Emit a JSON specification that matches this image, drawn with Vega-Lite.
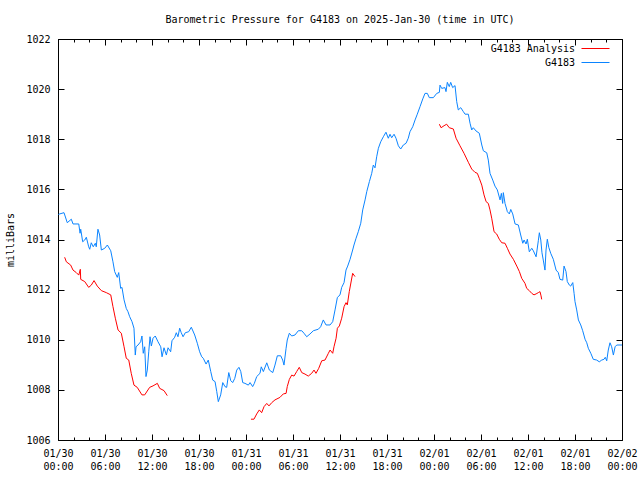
{
"$schema": "https://vega.github.io/schema/vega-lite/v6.json",
"width": 564, "height": 401,
"autosize": {"type": "none"},
"padding": {"left": 58, "top": 39, "right": 18, "bottom": 40},
"background": "white",
"title": {"text": "Barometric Pressure for G4183 on 2025-Jan-30 (time in UTC)", "font": "DejaVu Sans Mono", "fontSize": 10, "fontWeight": "normal", "color": "black", "anchor": "middle", "offset": 9},
"config": {
  "view": {"stroke": "black", "strokeWidth": 1},
  "axis": {"labelFont": "DejaVu Sans Mono", "labelFontSize": 10, "labelColor": "black", "titleFont": "DejaVu Sans Mono", "titleFontSize": 10, "titleFontWeight": "normal", "titleColor": "black", "domain": false, "grid": false, "tickColor": "black", "tickWidth": 1}
},
"datasets": {
"blue": [
{"time":"2025-01-30T00:03:00Z","mb":1015.0},{"time":"2025-01-30T00:13:00Z","mb":1015.02},{"time":"2025-01-30T00:46:00Z","mb":1015.07},{"time":"2025-01-30T01:11:00Z","mb":1014.67},{"time":"2025-01-30T01:42:00Z","mb":1014.81},{"time":"2025-01-30T01:55:00Z","mb":1014.62},{"time":"2025-01-30T02:39:00Z","mb":1014.62},{"time":"2025-01-30T02:49:00Z","mb":1014.25},{"time":"2025-01-30T02:54:00Z","mb":1014.41},{"time":"2025-01-30T03:09:00Z","mb":1013.91},{"time":"2025-01-30T03:25:00Z","mb":1013.98},{"time":"2025-01-30T03:37:00Z","mb":1014.09},{"time":"2025-01-30T03:55:00Z","mb":1013.71},{"time":"2025-01-30T04:03:00Z","mb":1013.61},{"time":"2025-01-30T04:15:00Z","mb":1013.87},{"time":"2025-01-30T04:30:00Z","mb":1013.71},{"time":"2025-01-30T04:46:00Z","mb":1013.85},{"time":"2025-01-30T04:53:00Z","mb":1013.71},{"time":"2025-01-30T05:06:00Z","mb":1014.41},{"time":"2025-01-30T05:19:00Z","mb":1014.18},{"time":"2025-01-30T05:32:00Z","mb":1013.58},{"time":"2025-01-30T05:58:00Z","mb":1013.65},{"time":"2025-01-30T06:18:00Z","mb":1013.78},{"time":"2025-01-30T06:44:00Z","mb":1013.55},{"time":"2025-01-30T07:01:00Z","mb":1013.11},{"time":"2025-01-30T07:14:00Z","mb":1012.72},{"time":"2025-01-30T07:34:00Z","mb":1012.49},{"time":"2025-01-30T07:45:00Z","mb":1012.68},{"time":"2025-01-30T08:00:00Z","mb":1012.05},{"time":"2025-01-30T08:10:00Z","mb":1012.09},{"time":"2025-01-30T08:26:00Z","mb":1011.59},{"time":"2025-01-30T08:43:00Z","mb":1011.25},{"time":"2025-01-30T08:56:00Z","mb":1011.12},{"time":"2025-01-30T09:09:00Z","mb":1010.92},{"time":"2025-01-30T09:27:00Z","mb":1010.72},{"time":"2025-01-30T09:42:00Z","mb":1010.46},{"time":"2025-01-30T09:52:00Z","mb":1009.39},{"time":"2025-01-30T09:58:00Z","mb":1009.72},{"time":"2025-01-30T10:13:00Z","mb":1009.79},{"time":"2025-01-30T10:33:00Z","mb":1009.92},{"time":"2025-01-30T10:43:00Z","mb":1010.15},{"time":"2025-01-30T10:53:00Z","mb":1009.46},{"time":"2025-01-30T11:04:00Z","mb":1009.72},{"time":"2025-01-30T11:14:00Z","mb":1008.53},{"time":"2025-01-30T11:24:00Z","mb":1008.79},{"time":"2025-01-30T11:35:00Z","mb":1009.52},{"time":"2025-01-30T11:45:00Z","mb":1010.12},{"time":"2025-01-30T11:55:00Z","mb":1009.75},{"time":"2025-01-30T12:08:00Z","mb":1010.06},{"time":"2025-01-30T12:25:00Z","mb":1010.15},{"time":"2025-01-30T12:46:00Z","mb":1009.92},{"time":"2025-01-30T13:07:00Z","mb":1009.72},{"time":"2025-01-30T13:17:00Z","mb":1009.32},{"time":"2025-01-30T13:32:00Z","mb":1009.68},{"time":"2025-01-30T13:50:00Z","mb":1009.39},{"time":"2025-01-30T14:03:00Z","mb":1009.68},{"time":"2025-01-30T14:23:00Z","mb":1009.52},{"time":"2025-01-30T14:33:00Z","mb":1009.96},{"time":"2025-01-30T14:54:00Z","mb":1010.10},{"time":"2025-01-30T15:06:00Z","mb":1010.28},{"time":"2025-01-30T15:19:00Z","mb":1010.12},{"time":"2025-01-30T15:32:00Z","mb":1010.46},{"time":"2025-01-30T15:44:00Z","mb":1010.28},{"time":"2025-01-30T15:58:00Z","mb":1010.12},{"time":"2025-01-30T16:15:00Z","mb":1010.28},{"time":"2025-01-30T16:41:00Z","mb":1010.32},{"time":"2025-01-30T17:01:00Z","mb":1010.50},{"time":"2025-01-30T17:27:00Z","mb":1010.19},{"time":"2025-01-30T17:47:00Z","mb":1009.86},{"time":"2025-01-30T18:05:00Z","mb":1009.52},{"time":"2025-01-30T18:21:00Z","mb":1009.32},{"time":"2025-01-30T18:33:00Z","mb":1009.26},{"time":"2025-01-30T18:54:00Z","mb":1009.03},{"time":"2025-01-30T19:11:00Z","mb":1009.19},{"time":"2025-01-30T19:30:00Z","mb":1008.73},{"time":"2025-01-30T19:45:00Z","mb":1008.39},{"time":"2025-01-30T20:03:00Z","mb":1008.33},{"time":"2025-01-30T20:16:00Z","mb":1007.93},{"time":"2025-01-30T20:28:00Z","mb":1007.53},{"time":"2025-01-30T20:46:00Z","mb":1007.80},{"time":"2025-01-30T21:02:00Z","mb":1008.29},{"time":"2025-01-30T21:19:00Z","mb":1008.13},{"time":"2025-01-30T21:32:00Z","mb":1008.10},{"time":"2025-01-30T21:48:00Z","mb":1008.69},{"time":"2025-01-30T22:03:00Z","mb":1008.37},{"time":"2025-01-30T22:18:00Z","mb":1008.29},{"time":"2025-01-30T22:34:00Z","mb":1008.46},{"time":"2025-01-30T22:49:00Z","mb":1008.79},{"time":"2025-01-30T23:06:00Z","mb":1008.90},{"time":"2025-01-30T23:20:00Z","mb":1008.73},{"time":"2025-01-30T23:35:00Z","mb":1008.29},{"time":"2025-01-30T23:52:00Z","mb":1008.26},
{"time":"2025-01-31T00:18:00Z","mb":1008.19},{"time":"2025-01-31T00:31:00Z","mb":1008.29},{"time":"2025-01-31T00:51:00Z","mb":1008.13},{"time":"2025-01-31T01:04:00Z","mb":1008.26},{"time":"2025-01-31T01:22:00Z","mb":1008.53},{"time":"2025-01-31T01:47:00Z","mb":1008.66},{"time":"2025-01-31T01:57:00Z","mb":1008.92},{"time":"2025-01-31T02:13:00Z","mb":1008.73},{"time":"2025-01-31T02:39:00Z","mb":1009.08},{"time":"2025-01-31T02:59:00Z","mb":1008.79},{"time":"2025-01-31T03:25:00Z","mb":1008.69},{"time":"2025-01-31T03:42:00Z","mb":1008.99},{"time":"2025-01-31T04:00:00Z","mb":1009.36},{"time":"2025-01-31T04:26:00Z","mb":1009.36},{"time":"2025-01-31T04:41:00Z","mb":1009.19},{"time":"2025-01-31T04:51:00Z","mb":1008.99},{"time":"2025-01-31T05:07:00Z","mb":1009.66},{"time":"2025-01-31T05:16:00Z","mb":1009.99},{"time":"2025-01-31T05:32:00Z","mb":1010.26},{"time":"2025-01-31T05:50:00Z","mb":1010.15},{"time":"2025-01-31T06:15:00Z","mb":1010.19},{"time":"2025-01-31T06:41:00Z","mb":1010.36},{"time":"2025-01-31T07:07:00Z","mb":1010.36},{"time":"2025-01-31T07:24:00Z","mb":1010.26},{"time":"2025-01-31T07:45:00Z","mb":1010.12},{"time":"2025-01-31T08:10:00Z","mb":1010.23},{"time":"2025-01-31T08:36:00Z","mb":1010.36},{"time":"2025-01-31T09:14:00Z","mb":1010.42},{"time":"2025-01-31T09:32:00Z","mb":1010.52},{"time":"2025-01-31T09:52:00Z","mb":1010.79},{"time":"2025-01-31T10:13:00Z","mb":1010.59},{"time":"2025-01-31T10:44:00Z","mb":1010.59},{"time":"2025-01-31T11:04:00Z","mb":1010.72},{"time":"2025-01-31T11:22:00Z","mb":1011.19},{"time":"2025-01-31T11:40:00Z","mb":1011.69},{"time":"2025-01-31T12:00:00Z","mb":1011.79},{"time":"2025-01-31T12:13:00Z","mb":1012.09},{"time":"2025-01-31T12:31:00Z","mb":1012.28},{"time":"2025-01-31T12:46:00Z","mb":1012.78},{"time":"2025-01-31T12:59:00Z","mb":1012.94},{"time":"2025-01-31T13:17:00Z","mb":1013.21},{"time":"2025-01-31T13:37:00Z","mb":1013.58},{"time":"2025-01-31T13:47:00Z","mb":1013.78},{"time":"2025-01-31T14:03:00Z","mb":1014.05},{"time":"2025-01-31T14:20:00Z","mb":1014.31},{"time":"2025-01-31T14:39:00Z","mb":1014.65},{"time":"2025-01-31T14:54:00Z","mb":1015.18},{"time":"2025-01-31T15:12:00Z","mb":1015.58},{"time":"2025-01-31T15:25:00Z","mb":1015.91},{"time":"2025-01-31T15:45:00Z","mb":1016.31},{"time":"2025-01-31T16:03:00Z","mb":1016.64},{"time":"2025-01-31T16:15:00Z","mb":1016.97},{"time":"2025-01-31T16:28:00Z","mb":1016.86},{"time":"2025-01-31T16:41:00Z","mb":1017.30},{"time":"2025-01-31T16:54:00Z","mb":1017.64},{"time":"2025-01-31T17:12:00Z","mb":1017.90},{"time":"2025-01-31T17:32:00Z","mb":1018.10},{"time":"2025-01-31T17:52:00Z","mb":1018.28},{"time":"2025-01-31T18:10:00Z","mb":1018.04},{"time":"2025-01-31T18:23:00Z","mb":1018.20},{"time":"2025-01-31T18:36:00Z","mb":1018.06},{"time":"2025-01-31T18:54:00Z","mb":1018.20},{"time":"2025-01-31T19:09:00Z","mb":1018.04},{"time":"2025-01-31T19:27:00Z","mb":1017.74},{"time":"2025-01-31T19:45:00Z","mb":1017.61},{"time":"2025-01-31T20:05:00Z","mb":1017.77},{"time":"2025-01-31T20:26:00Z","mb":1017.84},{"time":"2025-01-31T20:43:00Z","mb":1018.04},{"time":"2025-01-31T20:56:00Z","mb":1018.30},{"time":"2025-01-31T21:17:00Z","mb":1018.50},{"time":"2025-01-31T21:35:00Z","mb":1018.77},{"time":"2025-01-31T21:52:00Z","mb":1019.00},{"time":"2025-01-31T22:13:00Z","mb":1019.30},{"time":"2025-01-31T22:34:00Z","mb":1019.61},{"time":"2025-01-31T22:51:00Z","mb":1019.83},{"time":"2025-01-31T23:09:00Z","mb":1019.83},{"time":"2025-01-31T23:24:00Z","mb":1019.66},{"time":"2025-01-31T23:55:00Z","mb":1019.66},
{"time":"2025-02-01T00:21:00Z","mb":1019.83},{"time":"2025-02-01T00:41:00Z","mb":1019.87},{"time":"2025-02-01T00:46:00Z","mb":1020.16},{"time":"2025-02-01T00:59:00Z","mb":1020.03},{"time":"2025-02-01T01:24:00Z","mb":1020.06},{"time":"2025-02-01T01:32:00Z","mb":1019.90},{"time":"2025-02-01T01:42:00Z","mb":1020.27},{"time":"2025-02-01T01:57:00Z","mb":1020.10},{"time":"2025-02-01T02:08:00Z","mb":1020.27},{"time":"2025-02-01T02:23:00Z","mb":1020.06},{"time":"2025-02-01T02:41:00Z","mb":1020.14},{"time":"2025-02-01T02:54:00Z","mb":1019.50},{"time":"2025-02-01T03:06:00Z","mb":1019.17},{"time":"2025-02-01T03:25:00Z","mb":1019.26},{"time":"2025-02-01T03:45:00Z","mb":1019.10},{"time":"2025-02-01T03:58:00Z","mb":1019.00},{"time":"2025-02-01T04:23:00Z","mb":1019.00},{"time":"2025-02-01T04:36:00Z","mb":1018.64},{"time":"2025-02-01T04:49:00Z","mb":1018.37},{"time":"2025-02-01T05:01:00Z","mb":1018.46},{"time":"2025-02-01T05:22:00Z","mb":1018.33},{"time":"2025-02-01T05:47:00Z","mb":1018.24},{"time":"2025-02-01T06:06:00Z","mb":1017.77},{"time":"2025-02-01T06:18:00Z","mb":1017.54},{"time":"2025-02-01T06:44:00Z","mb":1017.46},{"time":"2025-02-01T06:56:00Z","mb":1017.17},{"time":"2025-02-01T07:09:00Z","mb":1016.64},{"time":"2025-02-01T07:30:00Z","mb":1016.37},{"time":"2025-02-01T07:47:00Z","mb":1016.13},{"time":"2025-02-01T08:05:00Z","mb":1015.98},{"time":"2025-02-01T08:26:00Z","mb":1015.58},{"time":"2025-02-01T08:36:00Z","mb":1015.84},{"time":"2025-02-01T08:46:00Z","mb":1015.44},{"time":"2025-02-01T08:51:00Z","mb":1015.87},{"time":"2025-02-01T09:04:00Z","mb":1015.44},{"time":"2025-02-01T09:22:00Z","mb":1015.11},{"time":"2025-02-01T09:37:00Z","mb":1015.02},{"time":"2025-02-01T09:48:00Z","mb":1015.20},{"time":"2025-02-01T10:03:00Z","mb":1015.02},{"time":"2025-02-01T10:21:00Z","mb":1014.62},{"time":"2025-02-01T10:46:00Z","mb":1014.58},{"time":"2025-02-01T11:04:00Z","mb":1014.18},{"time":"2025-02-01T11:20:00Z","mb":1013.85},{"time":"2025-02-01T11:30:00Z","mb":1013.98},{"time":"2025-02-01T11:45:00Z","mb":1013.82},{"time":"2025-02-01T11:55:00Z","mb":1014.01},{"time":"2025-02-01T12:10:00Z","mb":1013.51},{"time":"2025-02-01T12:29:00Z","mb":1013.65},{"time":"2025-02-01T12:41:00Z","mb":1013.55},{"time":"2025-02-01T13:02:00Z","mb":1013.31},{"time":"2025-02-01T13:19:00Z","mb":1013.95},{"time":"2025-02-01T13:27:00Z","mb":1014.27},{"time":"2025-02-01T13:38:00Z","mb":1013.98},{"time":"2025-02-01T13:47:00Z","mb":1013.47},{"time":"2025-02-01T13:57:00Z","mb":1013.18},{"time":"2025-02-01T14:10:00Z","mb":1012.78},{"time":"2025-02-01T14:18:00Z","mb":1013.58},{"time":"2025-02-01T14:28:00Z","mb":1014.01},{"time":"2025-02-01T14:39:00Z","mb":1013.69},{"time":"2025-02-01T14:54:00Z","mb":1013.45},{"time":"2025-02-01T15:14:00Z","mb":1013.21},{"time":"2025-02-01T15:35:00Z","mb":1012.78},{"time":"2025-02-01T15:52:00Z","mb":1012.68},{"time":"2025-02-01T16:05:00Z","mb":1012.41},{"time":"2025-02-01T16:26:00Z","mb":1012.38},{"time":"2025-02-01T16:36:00Z","mb":1012.94},{"time":"2025-02-01T16:51:00Z","mb":1012.72},{"time":"2025-02-01T17:01:00Z","mb":1012.32},{"time":"2025-02-01T17:17:00Z","mb":1012.18},{"time":"2025-02-01T17:27:00Z","mb":1012.14},{"time":"2025-02-01T17:43:00Z","mb":1012.28},{"time":"2025-02-01T17:53:00Z","mb":1011.85},{"time":"2025-02-01T18:00:00Z","mb":1011.52},{"time":"2025-02-01T18:13:00Z","mb":1011.19},{"time":"2025-02-01T18:26:00Z","mb":1010.79},{"time":"2025-02-01T18:44:00Z","mb":1010.59},{"time":"2025-02-01T18:59:00Z","mb":1010.36},{"time":"2025-02-01T19:17:00Z","mb":1010.02},{"time":"2025-02-01T19:30:00Z","mb":1009.88},{"time":"2025-02-01T19:42:00Z","mb":1009.66},{"time":"2025-02-01T20:01:00Z","mb":1009.46},{"time":"2025-02-01T20:20:00Z","mb":1009.22},{"time":"2025-02-01T20:46:00Z","mb":1009.19},{"time":"2025-02-01T21:06:00Z","mb":1009.12},{"time":"2025-02-01T21:25:00Z","mb":1009.19},{"time":"2025-02-01T21:42:00Z","mb":1009.22},{"time":"2025-02-01T21:52:00Z","mb":1009.30},{"time":"2025-02-01T22:03:00Z","mb":1009.16},{"time":"2025-02-01T22:15:00Z","mb":1009.59},{"time":"2025-02-01T22:28:00Z","mb":1009.88},{"time":"2025-02-01T22:41:00Z","mb":1009.72},{"time":"2025-02-01T22:54:00Z","mb":1009.39},{"time":"2025-02-01T23:07:00Z","mb":1009.72},{"time":"2025-02-01T23:20:00Z","mb":1009.79},{"time":"2025-02-02T00:00:00Z","mb":1009.79}
],
"red": [
{"seg":"r1","time":"2025-01-30T00:51:00Z","mb":1013.29},{"seg":"r1","time":"2025-01-30T01:04:00Z","mb":1013.11},{"seg":"r1","time":"2025-01-30T01:37:00Z","mb":1012.98},{"seg":"r1","time":"2025-01-30T01:55:00Z","mb":1012.78},{"seg":"r1","time":"2025-01-30T02:20:00Z","mb":1012.68},{"seg":"r1","time":"2025-01-30T02:39:00Z","mb":1012.58},{"seg":"r1","time":"2025-01-30T02:51:00Z","mb":1012.81},{"seg":"r1","time":"2025-01-30T02:54:00Z","mb":1012.41},{"seg":"r1","time":"2025-01-30T03:25:00Z","mb":1012.32},{"seg":"r1","time":"2025-01-30T03:55:00Z","mb":1012.09},{"seg":"r1","time":"2025-01-30T04:15:00Z","mb":1012.18},{"seg":"r1","time":"2025-01-30T04:36:00Z","mb":1012.36},{"seg":"r1","time":"2025-01-30T05:01:00Z","mb":1012.14},{"seg":"r1","time":"2025-01-30T05:32:00Z","mb":1011.96},{"seg":"r1","time":"2025-01-30T06:10:00Z","mb":1011.88},{"seg":"r1","time":"2025-01-30T06:44:00Z","mb":1011.79},{"seg":"r1","time":"2025-01-30T07:01:00Z","mb":1011.32},{"seg":"r1","time":"2025-01-30T07:19:00Z","mb":1010.86},{"seg":"r1","time":"2025-01-30T07:40:00Z","mb":1010.39},{"seg":"r1","time":"2025-01-30T08:05:00Z","mb":1010.26},{"seg":"r1","time":"2025-01-30T08:26:00Z","mb":1009.72},{"seg":"r1","time":"2025-01-30T08:43:00Z","mb":1009.26},{"seg":"r1","time":"2025-01-30T09:02:00Z","mb":1009.19},{"seg":"r1","time":"2025-01-30T09:21:00Z","mb":1008.66},{"seg":"r1","time":"2025-01-30T09:42:00Z","mb":1008.19},{"seg":"r1","time":"2025-01-30T10:07:00Z","mb":1008.10},{"seg":"r1","time":"2025-01-30T10:43:00Z","mb":1007.80},{"seg":"r1","time":"2025-01-30T11:04:00Z","mb":1007.80},{"seg":"r1","time":"2025-01-30T11:42:00Z","mb":1008.10},{"seg":"r1","time":"2025-01-30T12:08:00Z","mb":1008.16},{"seg":"r1","time":"2025-01-30T12:41:00Z","mb":1008.26},{"seg":"r1","time":"2025-01-30T12:59:00Z","mb":1008.06},{"seg":"r1","time":"2025-01-30T13:32:00Z","mb":1007.97},{"seg":"r1","time":"2025-01-30T13:57:00Z","mb":1007.77},
{"seg":"r2","time":"2025-01-31T00:38:00Z","mb":1006.83},{"seg":"r2","time":"2025-01-31T01:01:00Z","mb":1006.83},{"seg":"r2","time":"2025-01-31T01:22:00Z","mb":1007.04},{"seg":"r2","time":"2025-01-31T01:42:00Z","mb":1007.20},{"seg":"r2","time":"2025-01-31T02:00:00Z","mb":1007.09},{"seg":"r2","time":"2025-01-31T02:18:00Z","mb":1007.33},{"seg":"r2","time":"2025-01-31T02:39:00Z","mb":1007.46},{"seg":"r2","time":"2025-01-31T02:56:00Z","mb":1007.36},{"seg":"r2","time":"2025-01-31T03:17:00Z","mb":1007.49},{"seg":"r2","time":"2025-01-31T03:42:00Z","mb":1007.60},{"seg":"r2","time":"2025-01-31T04:20:00Z","mb":1007.70},{"seg":"r2","time":"2025-01-31T04:46:00Z","mb":1007.84},{"seg":"r2","time":"2025-01-31T05:07:00Z","mb":1007.86},{"seg":"r2","time":"2025-01-31T05:16:00Z","mb":1008.13},{"seg":"r2","time":"2025-01-31T05:32:00Z","mb":1008.42},{"seg":"r2","time":"2025-01-31T05:50:00Z","mb":1008.59},{"seg":"r2","time":"2025-01-31T06:08:00Z","mb":1008.55},{"seg":"r2","time":"2025-01-31T06:28:00Z","mb":1008.73},{"seg":"r2","time":"2025-01-31T06:48:00Z","mb":1008.90},{"seg":"r2","time":"2025-01-31T07:07:00Z","mb":1008.69},{"seg":"r2","time":"2025-01-31T07:32:00Z","mb":1008.63},{"seg":"r2","time":"2025-01-31T07:57:00Z","mb":1008.55},{"seg":"r2","time":"2025-01-31T08:23:00Z","mb":1008.66},{"seg":"r2","time":"2025-01-31T08:41:00Z","mb":1008.79},{"seg":"r2","time":"2025-01-31T08:56:00Z","mb":1008.66},{"seg":"r2","time":"2025-01-31T09:17:00Z","mb":1008.86},{"seg":"r2","time":"2025-01-31T09:40:00Z","mb":1009.16},{"seg":"r2","time":"2025-01-31T10:05:00Z","mb":1009.19},{"seg":"r2","time":"2025-01-31T10:31:00Z","mb":1009.46},{"seg":"r2","time":"2025-01-31T10:44:00Z","mb":1009.59},{"seg":"r2","time":"2025-01-31T11:04:00Z","mb":1009.46},{"seg":"r2","time":"2025-01-31T11:14:00Z","mb":1009.72},{"seg":"r2","time":"2025-01-31T11:30:00Z","mb":1010.06},{"seg":"r2","time":"2025-01-31T11:40:00Z","mb":1010.46},{"seg":"r2","time":"2025-01-31T11:55:00Z","mb":1010.55},{"seg":"r2","time":"2025-01-31T12:13:00Z","mb":1010.86},{"seg":"r2","time":"2025-01-31T12:31:00Z","mb":1011.32},{"seg":"r2","time":"2025-01-31T12:46:00Z","mb":1011.48},{"seg":"r2","time":"2025-01-31T12:56:00Z","mb":1011.39},{"seg":"r2","time":"2025-01-31T13:11:00Z","mb":1011.92},{"seg":"r2","time":"2025-01-31T13:37:00Z","mb":1012.65},{"seg":"r2","time":"2025-01-31T13:55:00Z","mb":1012.52},
{"seg":"r3","time":"2025-02-01T00:41:00Z","mb":1018.60},{"seg":"r3","time":"2025-02-01T00:54:00Z","mb":1018.46},{"seg":"r3","time":"2025-02-01T01:17:00Z","mb":1018.54},{"seg":"r3","time":"2025-02-01T01:37:00Z","mb":1018.60},{"seg":"r3","time":"2025-02-01T01:57:00Z","mb":1018.46},{"seg":"r3","time":"2025-02-01T02:28:00Z","mb":1018.41},{"seg":"r3","time":"2025-02-01T02:49:00Z","mb":1018.04},{"seg":"r3","time":"2025-02-01T03:19:00Z","mb":1017.74},{"seg":"r3","time":"2025-02-01T03:50:00Z","mb":1017.44},{"seg":"r3","time":"2025-02-01T04:23:00Z","mb":1017.08},{"seg":"r3","time":"2025-02-01T04:49:00Z","mb":1016.81},{"seg":"r3","time":"2025-02-01T05:14:00Z","mb":1016.68},{"seg":"r3","time":"2025-02-01T05:32:00Z","mb":1016.64},{"seg":"r3","time":"2025-02-01T05:47:00Z","mb":1016.44},{"seg":"r3","time":"2025-02-01T06:06:00Z","mb":1016.17},{"seg":"r3","time":"2025-02-01T06:23:00Z","mb":1015.78},{"seg":"r3","time":"2025-02-01T06:39:00Z","mb":1015.51},{"seg":"r3","time":"2025-02-01T06:56:00Z","mb":1015.44},{"seg":"r3","time":"2025-02-01T07:09:00Z","mb":1015.18},{"seg":"r3","time":"2025-02-01T07:22:00Z","mb":1014.85},{"seg":"r3","time":"2025-02-01T07:40:00Z","mb":1014.31},{"seg":"r3","time":"2025-02-01T08:00:00Z","mb":1014.22},{"seg":"r3","time":"2025-02-01T08:20:00Z","mb":1014.01},{"seg":"r3","time":"2025-02-01T08:39:00Z","mb":1013.87},{"seg":"r3","time":"2025-02-01T09:04:00Z","mb":1013.85},{"seg":"r3","time":"2025-02-01T09:22:00Z","mb":1013.65},{"seg":"r3","time":"2025-02-01T09:42:00Z","mb":1013.42},{"seg":"r3","time":"2025-02-01T10:08:00Z","mb":1013.21},{"seg":"r3","time":"2025-02-01T10:34:00Z","mb":1012.94},{"seg":"r3","time":"2025-02-01T10:54:00Z","mb":1012.72},{"seg":"r3","time":"2025-02-01T11:12:00Z","mb":1012.45},{"seg":"r3","time":"2025-02-01T11:37:00Z","mb":1012.25},{"seg":"r3","time":"2025-02-01T11:50:00Z","mb":1012.05},{"seg":"r3","time":"2025-02-01T12:10:00Z","mb":1011.96},{"seg":"r3","time":"2025-02-01T12:29:00Z","mb":1011.85},{"seg":"r3","time":"2025-02-01T12:46:00Z","mb":1011.79},{"seg":"r3","time":"2025-02-01T13:02:00Z","mb":1011.83},{"seg":"r3","time":"2025-02-01T13:19:00Z","mb":1011.88},{"seg":"r3","time":"2025-02-01T13:32:00Z","mb":1011.92},{"seg":"r3","time":"2025-02-01T13:40:00Z","mb":1011.75},{"seg":"r3","time":"2025-02-01T13:45:00Z","mb":1011.61}
]
},
"layer": [
{
  "data": {"name": "blue"},
  "transform": [{"calculate": "'G4183'", "as": "series"}],
  "mark": {"type": "line", "strokeWidth": 1},
  "encoding": {
    "x": {"field": "time", "type": "temporal",
      "scale": {"type": "utc", "domain": [1738195200000, 1738454400000], "nice": false},
      "axis": {"orient": "bottom", "title": null, "offset": -6, "tickSize": 6,
        "values": [1738195200000, 1738216800000, 1738238400000, 1738260000000, 1738281600000, 1738303200000, 1738324800000, 1738346400000, 1738368000000, 1738389600000, 1738411200000, 1738432800000, 1738454400000],
        "labelExpr": "[utcFormat(datum.value, '%m/%d'), utcFormat(datum.value, '%H:%M')]",
        "labelAngle": 0, "labelPadding": 8, "labelOverlap": false, "labelFlush": false, "labelBound": false, "labelLineHeight": 13, "labelAlign": "center", "labelBaseline": "top"}},
    "y": {"field": "mb", "type": "quantitative",
      "scale": {"domain": [1006, 1022], "nice": false, "zero": false},
      "axis": {"orient": "left", "title": "milliBars", "format": "d", "offset": -6, "values": [1006, 1008, 1010, 1012, 1014, 1016, 1018, 1020, 1022], "tickSize": 6, "labelPadding": 8, "titlePadding": 10, "labelOverlap": false, "labelFlush": false, "labelBound": false}},
    "color": {"field": "series", "type": "nominal",
      "scale": {"domain": ["G4183 Analysis", "G4183"], "range": ["#ff0000", "#0a84ff"]},
      "legend": {"title": null, "orient": "none", "legendX": 532, "legendY": 4, "padding": 0, "symbolType": "M-2.8,0H2.8", "symbolSize": 100, "symbolStrokeWidth": 1, "labelAlign": "right", "labelOffset": -26, "labelFont": "DejaVu Sans Mono", "labelFontSize": 10, "labelColor": "black", "labelLimit": 0, "rowPadding": 3}}
  }
},
{
  "data": {"name": "red"},
  "transform": [{"calculate": "'G4183 Analysis'", "as": "series"}],
  "mark": {"type": "line", "strokeWidth": 1},
  "encoding": {
    "x": {"field": "time", "type": "temporal",
      "axis": {"orient": "top", "title": null, "labels": false, "offset": -6, "tickSize": 6,
        "values": [1738195200000, 1738216800000, 1738238400000, 1738260000000, 1738281600000, 1738303200000, 1738324800000, 1738346400000, 1738368000000, 1738389600000, 1738411200000, 1738432800000, 1738454400000]}},
    "y": {"field": "mb", "type": "quantitative",
      "axis": {"orient": "right", "title": null, "labels": false, "offset": -6, "values": [1006, 1008, 1010, 1012, 1014, 1016, 1018, 1020, 1022], "tickSize": 6}},
    "color": {"field": "series", "type": "nominal"},
    "detail": {"field": "seg"}
  }
},
{
  "data": {"name": "blue"},
  "mark": {"type": "line", "strokeOpacity": 0},
  "encoding": {
    "x": {"field": "time", "type": "temporal",
      "axis": {"orient": "bottom", "title": null, "labels": false, "offset": -3, "tickSize": 3,
        "values": [1738195200000, 1738202400000, 1738209600000, 1738216800000, 1738224000000, 1738231200000, 1738238400000, 1738245600000, 1738252800000, 1738260000000, 1738267200000, 1738274400000, 1738281600000, 1738288800000, 1738296000000, 1738303200000, 1738310400000, 1738317600000, 1738324800000, 1738332000000, 1738339200000, 1738346400000, 1738353600000, 1738360800000, 1738368000000, 1738375200000, 1738382400000, 1738389600000, 1738396800000, 1738404000000, 1738411200000, 1738418400000, 1738425600000, 1738432800000, 1738440000000, 1738447200000, 1738454400000]}},
    "y": {"field": "mb", "type": "quantitative", "axis": null}
  }
},
{
  "data": {"name": "blue"},
  "mark": {"type": "line", "strokeOpacity": 0},
  "encoding": {
    "x": {"field": "time", "type": "temporal",
      "axis": {"orient": "top", "title": null, "labels": false, "offset": -3, "tickSize": 3,
        "values": [1738195200000, 1738202400000, 1738209600000, 1738216800000, 1738224000000, 1738231200000, 1738238400000, 1738245600000, 1738252800000, 1738260000000, 1738267200000, 1738274400000, 1738281600000, 1738288800000, 1738296000000, 1738303200000, 1738310400000, 1738317600000, 1738324800000, 1738332000000, 1738339200000, 1738346400000, 1738353600000, 1738360800000, 1738368000000, 1738375200000, 1738382400000, 1738389600000, 1738396800000, 1738404000000, 1738411200000, 1738418400000, 1738425600000, 1738432800000, 1738440000000, 1738447200000, 1738454400000]}},
    "y": {"field": "mb", "type": "quantitative", "axis": null}
  }
}
],
"resolve": {"axis": {"x": "independent", "y": "independent"}}
}
